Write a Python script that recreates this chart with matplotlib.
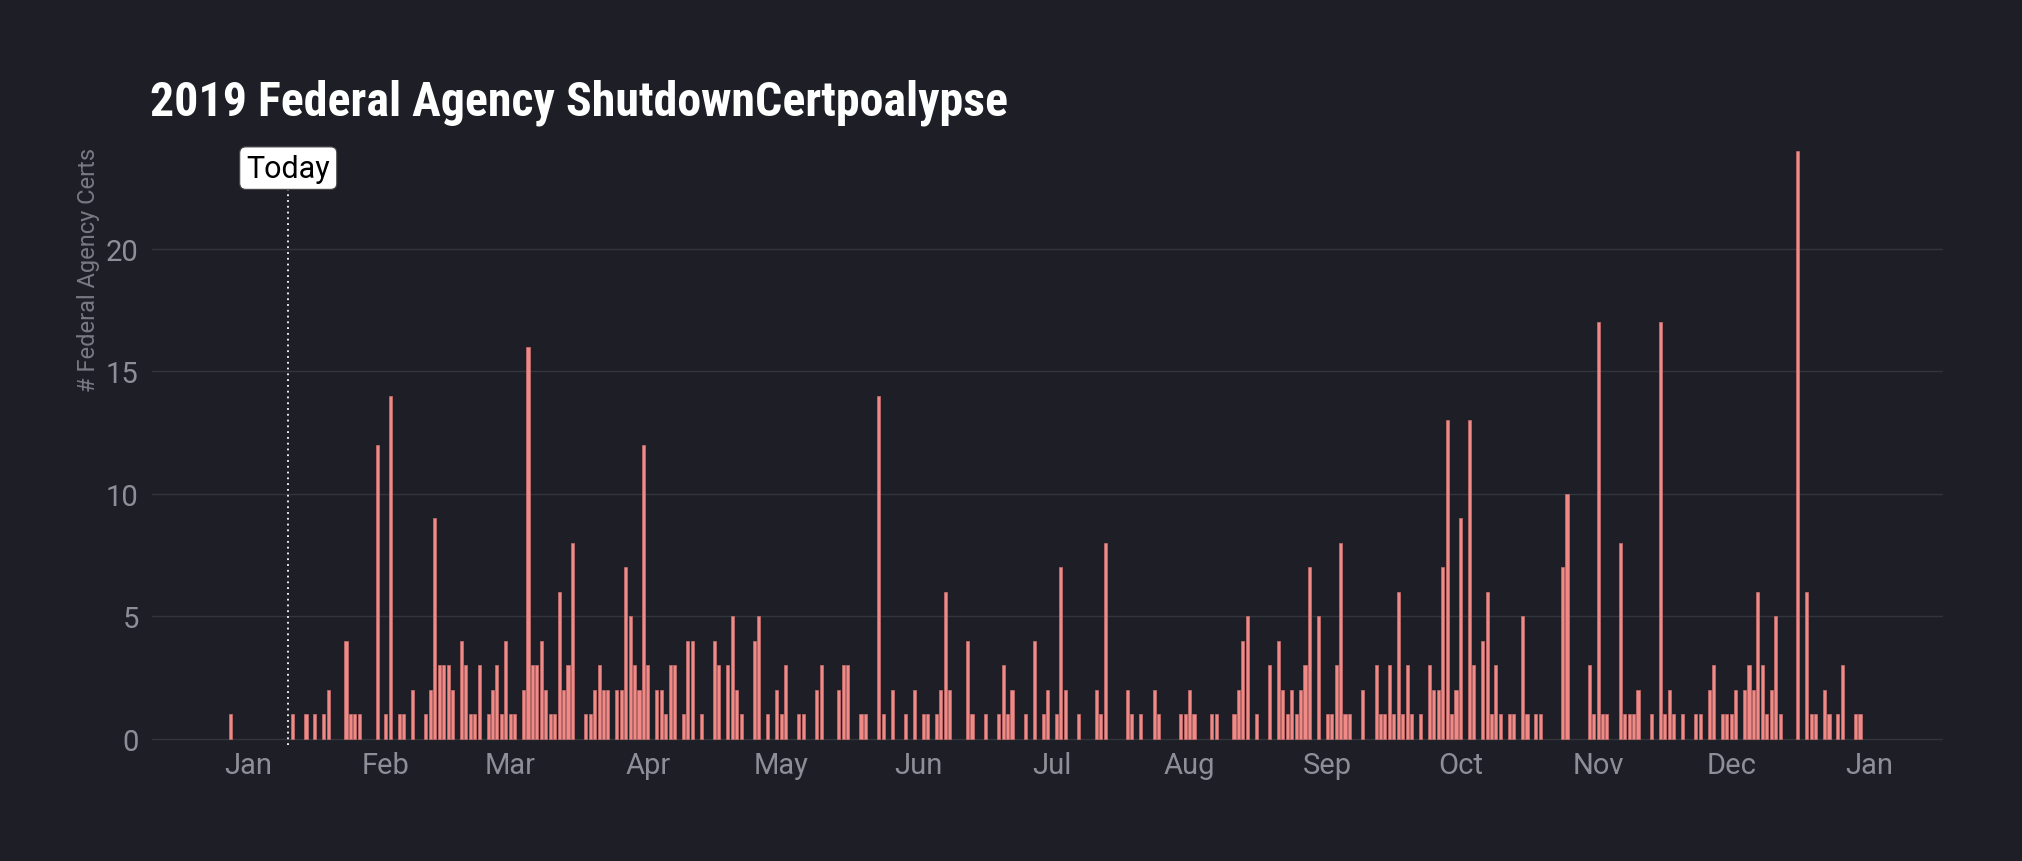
import pandas as pd
import matplotlib.pyplot as plt
import matplotlib.dates as mdates

# Federal agency certs expiring per day: day-of-month and count, by month
dec18_days = [28]
dec18_certs = [1]
jan_days = [11, 14, 16, 18, 19, 23, 24, 25, 26, 30]
jan_certs = [1, 1, 1, 1, 2, 4, 1, 1, 1, 12]
feb_days = [1, 2, 4, 5, 7, 10, 11, 12, 13, 14, 15, 16, 18, 19, 20, 21, 22, 24, 25, 26, 27, 28]
feb_certs = [1, 14, 1, 1, 2, 1, 2, 9, 3, 3, 3, 2, 4, 3, 1, 1, 3, 1, 2, 3, 1, 4]
mar_days = [1, 2, 4, 5, 6, 7, 8, 9, 10, 11, 12, 13, 14, 15, 18, 19, 20, 21, 22, 23, 25, 26, 27, 28, 29, 30, 31]
mar_certs = [1, 1, 2, 16, 3, 3, 4, 2, 1, 1, 6, 2, 3, 8, 1, 1, 2, 3, 2, 2, 2, 2, 7, 5, 3, 2, 12]
apr_days = [1, 3, 4, 5, 6, 7, 9, 10, 11, 13, 16, 17, 19, 20, 21, 22, 25, 26, 28, 30]
apr_certs = [3, 2, 2, 1, 3, 3, 1, 4, 4, 1, 4, 3, 3, 5, 2, 1, 4, 5, 1, 2]
may_days = [1, 2, 5, 6, 9, 10, 14, 15, 16, 19, 20, 23, 24, 26, 29, 31]
may_certs = [1, 3, 1, 1, 2, 3, 2, 3, 3, 1, 1, 14, 1, 2, 1, 2]
jun_days = [2, 3, 5, 6, 7, 8, 12, 13, 16, 19, 20, 21, 22, 25, 27, 29, 30]
jun_certs = [1, 1, 1, 2, 6, 2, 4, 1, 1, 1, 3, 1, 2, 1, 4, 1, 2]
jul_days = [2, 3, 4, 7, 11, 12, 13, 18, 19, 21, 24, 25, 30, 31]
jul_certs = [1, 7, 2, 1, 2, 1, 8, 2, 1, 1, 2, 1, 1, 1]
aug_days = [1, 2, 6, 7, 11, 12, 13, 14, 16, 19, 21, 22, 23, 24, 25, 26, 27, 28, 30]
aug_certs = [2, 1, 1, 1, 1, 2, 4, 5, 1, 3, 4, 2, 1, 2, 1, 2, 3, 7, 5]
sep_days = [1, 2, 3, 4, 5, 6, 9, 12, 13, 14, 15, 16, 17, 18, 19, 20, 22, 24, 25, 26, 27, 28, 29, 30]
sep_certs = [1, 1, 3, 8, 1, 1, 2, 3, 1, 1, 3, 1, 6, 1, 3, 1, 1, 3, 2, 2, 7, 13, 1, 2]
oct_days = [1, 3, 4, 6, 7, 8, 9, 10, 12, 13, 15, 16, 18, 19, 24, 25, 30, 31]
oct_certs = [9, 13, 3, 4, 6, 1, 3, 1, 1, 1, 5, 1, 1, 1, 7, 10, 3, 1]
nov_days = [1, 2, 3, 6, 7, 8, 9, 10, 13, 15, 16, 17, 18, 20, 23, 24, 26, 27, 29, 30]
nov_certs = [17, 1, 1, 8, 1, 1, 1, 2, 1, 17, 1, 2, 1, 1, 1, 1, 2, 3, 1, 1]
dec_days = [1, 2, 4, 5, 6, 7, 8, 9, 10, 11, 12, 16, 18, 19, 20, 22, 23, 25, 26, 29, 30]
dec_certs = [1, 2, 2, 3, 2, 6, 3, 1, 2, 5, 1, 24, 6, 1, 1, 2, 1, 1, 3, 1, 1]

today = pd.Timestamp("2019-01-10")
y_ticks = [0, 5, 10, 15, 20]

months = [
    (2018, 12, dec18_days, dec18_certs),
    (2019, 1, jan_days, jan_certs),
    (2019, 2, feb_days, feb_certs),
    (2019, 3, mar_days, mar_certs),
    (2019, 4, apr_days, apr_certs),
    (2019, 5, may_days, may_certs),
    (2019, 6, jun_days, jun_certs),
    (2019, 7, jul_days, jul_certs),
    (2019, 8, aug_days, aug_certs),
    (2019, 9, sep_days, sep_certs),
    (2019, 10, oct_days, oct_certs),
    (2019, 11, nov_days, nov_certs),
    (2019, 12, dec_days, dec_certs),
]
rows = []
for yr, mo, days, certs in months:
    for d, c in zip(days, certs):
        rows.append((pd.Timestamp(yr, mo, d), c))
df = pd.DataFrame(rows, columns=["date", "certs"])

bg = "#1e1f26"
grid_col = "#33353c"
tick_col = "#8c8f97"
narrow = ["Roboto Condensed", "Liberation Sans Narrow", "Noto Sans", "Roboto"]

fig = plt.figure(figsize=(20.22, 8.62), dpi=100, facecolor=bg)
ax = fig.add_axes([152 / 2022, 1 - 746 / 862, (1943 - 152) / 2022, (746 - 148.3) / 862])
ax.set_facecolor(bg)

ax.bar(df["date"], df["certs"], width=0.7, color="#f08a87",
       edgecolor="#c9706e", linewidth=0.5, zorder=3)

ax.set_xlim(pd.Timestamp("2018-12-10 07:30"), pd.Timestamp("2020-01-17 16:30"))
ax.set_ylim(-0.245, 24.15)

ax.xaxis.set_major_locator(mdates.MonthLocator())
ax.xaxis.set_major_formatter(mdates.DateFormatter("%b"))
ax.set_yticks(y_ticks)
ax.yaxis.grid(True, color=grid_col, linewidth=1.0, zorder=0)
ax.xaxis.grid(False)
ax.set_axisbelow(True)
for s in ax.spines.values():
    s.set_visible(False)
ax.tick_params(axis="both", length=0, colors=tick_col, labelsize=21)
ax.tick_params(axis="y", pad=9.5)
ax.tick_params(axis="x", pad=4)
for lab in ax.get_xticklabels() + ax.get_yticklabels():
    lab.set_family("Roboto")

# today marker
ax.axvline(today, ymin=0, ymax=0.97, color="white", linestyle=(0, (1, 2.2)),
           linewidth=1.3, zorder=4)
ax.text(today, 23.3, "Today", ha="center", va="center", fontsize=22,
        family="Roboto", color="black", zorder=5,
        bbox=dict(boxstyle="round,pad=0.22,rounding_size=0.2", fc="white",
                  ec="#444444", lw=0.8))

fig.text(150 / 2022, 1 - 116 / 862, "2019 Federal Agency ShutdownCertpoalypse",
         fontsize=34.5, fontweight="bold", fontstretch="condensed", color="white",
         family=narrow, ha="left", va="baseline")
fig.text(88 / 2022, 1 - 148 / 862, "# Federal Agency Certs", rotation=90,
         ha="center", va="top", fontsize=17, color="#777a82", family="Roboto")

fig.savefig("out.png", dpi=100, facecolor=bg)
